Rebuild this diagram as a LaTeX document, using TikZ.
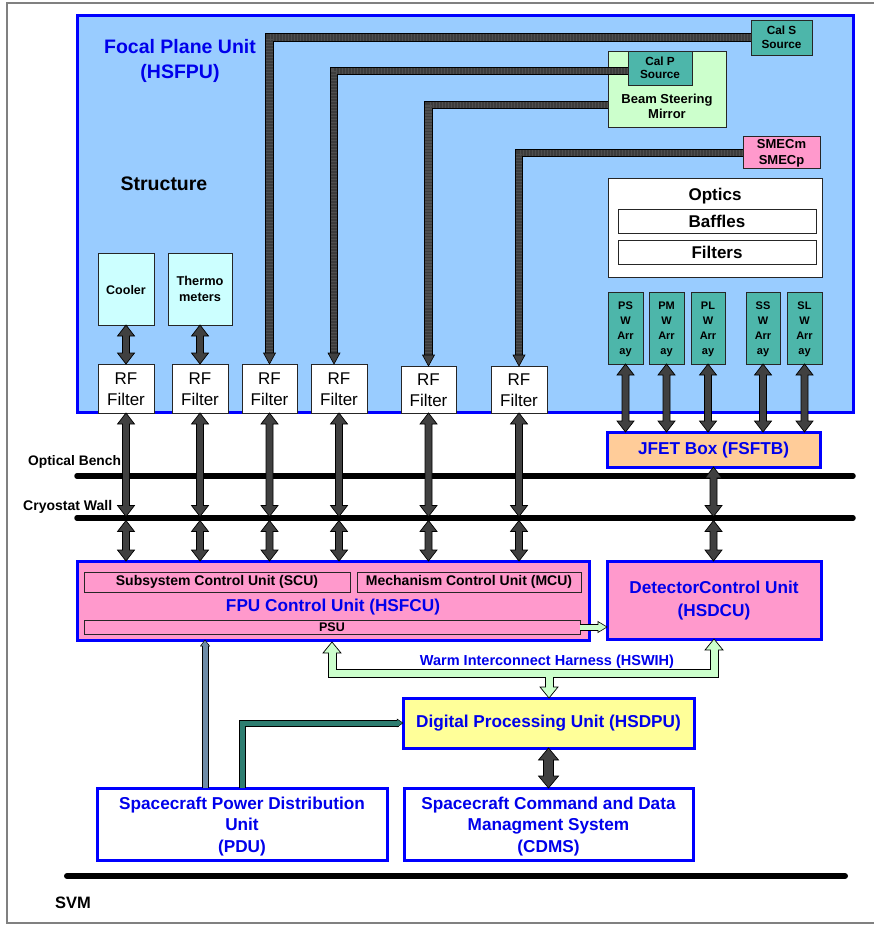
\documentclass[tikz,border=0pt]{standalone}
\usepackage{fontspec}
\setmainfont{Liberation Sans}
\usetikzlibrary{calc,fit}
\definecolor{fpublue}{RGB}{153,204,255}
\definecolor{bord}{RGB}{0,0,255}
\definecolor{txtblue}{RGB}{0,0,235}
\definecolor{cyanl}{RGB}{204,255,255}
\definecolor{tealc}{RGB}{77,182,170}
\definecolor{pinkc}{RGB}{255,153,204}
\definecolor{greenl}{RGB}{204,255,204}
\definecolor{peach}{RGB}{255,204,153}
\definecolor{yell}{RGB}{255,255,153}
\definecolor{darkg}{RGB}{64,64,64}
\definecolor{cablec}{RGB}{60,60,60}
\definecolor{cablestr}{RGB}{78,78,78}
\definecolor{steel}{RGB}{110,140,168}
\definecolor{tealdark}{RGB}{45,125,112}
\newcommand\myfs[2]{\fontsize{#1}{#2}\selectfont}
% vertical double block arrow: #2 top point, #3 bottom point, #4 half shaft, #5 half head, #6 head length
\newcommand\vdarr[6][darkg]{%
  \path[draw=black, line width=0.7pt, fill=#1, line join=miter]
    let \p1=#2, \p2=#3 in
    (\x1,\y1) -- ({\x1+#5},{\y1-#6}) -- ({\x1+#4},{\y1-#6}) -- ({\x1+#4},{\y2+#6})
    -- ({\x1+#5},{\y2+#6}) -- (\x1,\y2) -- ({\x1-#5},{\y2+#6}) -- ({\x1-#4},{\y2+#6})
    -- ({\x1-#4},{\y1-#6}) -- ({\x1-#5},{\y1-#6}) -- cycle;}
\newcommand\darr[2]{\vdarr{#1}{#2}{3.5pt}{8.5pt}{11pt}}
\newcommand\headup[5]{\path[draw=black, fill=#4, line width=#5] let \p1=#1 in
  (\x1,\y1) -- ({\x1-#2},{\y1-#3}) -- ({\x1+#2},{\y1-#3}) -- cycle;}
\newcommand\headdown[5]{\path[draw=black, fill=#4, line width=#5] let \p1=#1 in
  (\x1,\y1) -- ({\x1-#2},{\y1+#3}) -- ({\x1+#2},{\y1+#3}) -- cycle;}
\newcommand\headright[5]{\path[draw=black, fill=#4, line width=#5] let \p1=#1 in
  (\x1,\y1) -- ({\x1-#3},{\y1+#2}) -- ({\x1-#3},{\y1-#2}) -- cycle;}
\newcommand\cable[2]{%
  \draw[line width=8.5pt, black, shorten >=9pt] #1 -| #2;
  \draw[line width=6.5pt, cablec, shorten >=9pt] #1 -| #2;
  \draw[line width=6.5pt, cablestr, dash pattern=on 1.2pt off 1.8pt, shorten >=9pt] #1 -| #2;
  \headdown{#2}{6pt}{11pt}{darkg}{0.6pt}}
\tikzset{
  bbox/.style={draw=bord, line width=3pt, inner sep=0pt, outer sep=0pt},
  ibox/.style={draw=black!85, line width=0.8pt, inner sep=0pt, outer sep=0pt},
  btxt/.style={text=txtblue, font=\myfs{17.2}{21.5}\bfseries, align=center, inner sep=0pt},
  ktxt/.style={text=black, align=center, inner sep=0pt},
  rftxt/.style={ktxt, font=\myfs{17}{21}},
  arrtxt/.style={ktxt, font=\myfs{11}{15}\bfseries},
  hline/.style={line width=5.5pt, line cap=round, black},
}
\begin{document}
\begin{tikzpicture}[x=1pt,y=-1pt]
\useasboundingbox (0,0) rectangle (873,925);
% frame
\draw[gray, line width=1.5pt] (880,3) -- (7,3) -- (7,923) -- (880,923);

% Focal plane unit
\node[bbox, fill=fpublue, fit={(77,16) (853,412)}] (fpu) {};
\node[text=txtblue, font=\myfs{19.5}{24.5}\bfseries, align=center, inner sep=0pt] (fputitle) at (180,61) {Focal Plane Unit\\(HSFPU)};
\node[ktxt, font=\myfs{19.5}{24}\bfseries] (structure) at (164,184) {Structure};

\node[ibox, fill=tealc, fit={(751,20) (812,55)}] (calS) {};
\node[ktxt, font=\myfs{11.8}{14}\bfseries] (calSt) at (calS.center) {Cal S\\Source};
\node[ibox, fill=greenl, fit={(608,51) (726,127)}] (bsm) {};
\node[ktxt, font=\myfs{13}{15}\bfseries] (bsmtxt) at (667,106) {Beam Steering\\Mirror};
\node[ibox, fill=tealc, fit={(628,51) (692,85)}] (calP) {};
\node[ktxt, font=\myfs{11.8}{13.5}\bfseries] (calPt) at (calP.center) {Cal P\\Source};
\node[ibox, fill=pinkc, fit={(743,136) (820,168)}] (smec) {};
\node[ktxt, font=\myfs{13}{16}\bfseries] (smect) at ($(smec.center)+(0,1)$) {SMECm\\SMECp};

\node[ibox, fill=white, fit={(608,178) (822,277)}] (optics) {};
\node[ktxt, font=\myfs{17}{20}\bfseries] (opticstxt) at (715,196) {Optics};
\node[ibox, fill=white, fit={(618,209) (816,233)}] (baffles) {};
\node[ktxt, font=\myfs{17}{20}\bfseries] (bafflest) at (baffles.center) {Baffles};
\node[ibox, fill=white, fit={(618,240) (816,264)}] (filters) {};
\node[ktxt, font=\myfs{17}{20}\bfseries] (filterst) at (filters.center) {Filters};

\node[ibox, fill=cyanl, fit={(98,253) (154,325)}] (cooler) {};
\node[ktxt, font=\myfs{12.5}{16}\bfseries] (coolert) at ($(cooler.center)+(0,1)$) {Cooler};
\node[ibox, fill=cyanl, fit={(168,253) (232,325)}] (thermo) {};
\node[ktxt, font=\myfs{12.8}{16}\bfseries] (thermot) at (thermo.center) {Thermo\\meters};

\node[ibox, fill=white, fit={(98,364) (154,413)}] (rf1) {};
\node[ibox, fill=white, fit={(172,364) (228,413)}] (rf2) {};
\node[ibox, fill=white, fit={(242,364) (297,413)}] (rf3) {};
\node[ibox, fill=white, fit={(311,364) (367,413)}] (rf4) {};
\node[ibox, fill=white, fit={(401,366) (456,413)}] (rf5) {};
\node[ibox, fill=white, fit={(491,366) (547,413)}] (rf6) {};
\foreach \r in {rf1,rf2,rf3,rf4,rf5,rf6}{
  \node[rftxt] (\r t) at ($(\r.center)+(0,0.5)$) {RF\\Filter};
}

\node[ibox, fill=tealc, fit={(608,292) (643,364)}] (psw) {};
\node[ibox, fill=tealc, fit={(649,292) (684,364)}] (pmw) {};
\node[ibox, fill=tealc, fit={(691,292) (725,364)}] (plw) {};
\node[ibox, fill=tealc, fit={(746,292) (780,364)}] (ssw) {};
\node[ibox, fill=tealc, fit={(787,292) (822,364)}] (slw) {};
\node[arrtxt] (pswt) at ($(psw.center)+(0,1)$) {PS\\W\\Arr\\ay};
\node[arrtxt] (pmwt) at ($(pmw.center)+(0,1)$) {PM\\W\\Arr\\ay};
\node[arrtxt] (plwt) at ($(plw.center)+(0,1)$) {PL\\W\\Arr\\ay};
\node[arrtxt] (sswt) at ($(ssw.center)+(0,1)$) {SS\\W\\Arr\\ay};
\node[arrtxt] (slwt) at ($(slw.center)+(0,1)$) {SL\\W\\Arr\\ay};

% cables
\cable{(calS.west)}{(rf3.north)}
\cable{($(calP.west)+(0,3)$)}{($(rf4.north)+(-5,0)$)}
\cable{($(bsm.west)+(0,16)$)}{(rf5.north)}
\cable{($(smec.west)+(0,1)$)}{(rf6.north)}

% JFET box
\node[bbox, fill=peach, fit={(607,432) (820,467)}] (jfet) {};
\node[btxt] (jfett) at ($(jfet.center)+(0,0.5)$) {JFET Box (FSFTB)};

% bench and wall lines
\coordinate (ob) at (0,476);
\coordinate (cwa) at (0,516.5);
\coordinate (cwb) at (0,520.5);
\draw[hline] (77,476) -- (853,476);
\draw[hline] (77,518) -- (853,518);
\node[ktxt, font=\myfs{13.8}{16}\bfseries, anchor=west] (obtxt) at (28,462) {Optical Bench};
\node[ktxt, font=\myfs{14}{16}\bfseries, anchor=west] (cwtxt) at (23,507) {Cryostat Wall};

% lower boxes
\node[bbox, fill=pinkc, fit={(77,561) (589,640)}] (fcu) {};
\node[ibox, fill=pinkc, fit={(84,572) (350,592)}] (scu) {};
\node[ktxt, font=\myfs{14}{16}\bfseries] (scut) at (scu.center) {Subsystem Control Unit (SCU)};
\node[ibox, fill=pinkc, fit={(357,572) (581,592)}] (mcu) {};
\node[ktxt, font=\myfs{14}{16}\bfseries] (mcut) at (mcu.center) {Mechanism Control Unit (MCU)};
\node[btxt] (fcutxt) at (333,607) {FPU Control Unit (HSFCU)};
\node[ibox, fill=pinkc, fit={(84,620) (580,634)}] (psu) {};
\node[ktxt, font=\myfs{12.5}{14}\bfseries] (psut) at (psu.center) {PSU};
\node[bbox, fill=pinkc, fit={(607,561) (821,639)}] (dcu) {};
\node[btxt, font=\myfs{17.2}{23}\bfseries] (dcut) at ($(dcu.center)+(0,1)$) {DetectorControl Unit\\(HSDCU)};
\node[bbox, fill=yell, fit={(403,698) (694,748)}] (dpu) {};
\node[btxt] (dput) at (dpu.center) {Digital Processing Unit (HSDPU)};
\node[bbox, fill=white, fit={(97,788) (387,860)}] (pdu) {};
\node[btxt] (pdut) at ($(pdu.center)+(0,2.5)$) {Spacecraft Power Distribution\\Unit\\(PDU)};
\node[bbox, fill=white, fit={(404,788) (693,860)}] (cdms) {};
\node[btxt] (cdmst) at ($(cdms.center)+(0,2.5)$) {Spacecraft Command and Data\\Managment System\\(CDMS)};

% double block arrows
\darr{(cooler.south)}{(rf1.north)}
\darr{(thermo.south)}{(rf2.north)}
\foreach \r in {rf1,rf2,rf3,rf4,rf5,rf6}{
  \darr{(\r.south)}{(\r.south |- cwa)}
  \darr{(\r.south |- cwb)}{(\r.south |- fcu.north)}
}
\foreach \a in {psw,pmw,plw,ssw,slw}{
  \darr{(\a.south)}{(\a.south |- jfet.north)}
}
\darr{(jfet.south)}{(jfet.south |- cwa)}
\darr{(jfet.south |- cwb)}{(jfet.south |- dcu.north)}
\vdarr{(dpu.south)}{(cdms.north)}{5pt}{10pt}{12pt}

% PSU -> DCU small arrow
\draw[line width=7pt, black, shorten >=8pt] (psu.east) -- (dcu.west |- psu.east);
\headright{(dcu.west |- psu.east)}{5.5pt}{9pt}{greenl}{0.6pt}
\draw[line width=5pt, greenl, shorten >=7pt] (psu.east) -- (dcu.west |- psu.east);

% warm interconnect harness
\coordinate (hA) at (332,0);
\coordinate (hB) at (549,0);
\coordinate (hy) at (0,673.5);
\draw[line width=9pt, black, shorten <=10pt, shorten >=10pt] ($(fcu.south -| hA)+(0,2)$) |- (hy -| dcu.south) -- (dcu.south);
\draw[line width=9pt, black, shorten >=10pt] (hB |- hy) -- (hB |- dpu.north);
\headup{($(fcu.south -| hA)+(0,2)$)}{9pt}{11pt}{greenl}{0.7pt}
\headup{(dcu.south)}{9pt}{11pt}{greenl}{0.7pt}
\headdown{(hB |- dpu.north)}{9pt}{11pt}{greenl}{0.7pt}
\draw[line width=7pt, greenl, shorten <=9pt, shorten >=9pt] ($(fcu.south -| hA)+(0,2)$) |- (hy -| dcu.south) -- (dcu.south);
\draw[line width=7pt, greenl, shorten >=9pt] (hB |- hy) -- (hB |- dpu.north);
\node[text=txtblue, font=\myfs{14.5}{16}\bfseries, inner sep=0pt] (hswih) at (547,662) {Warm Interconnect Harness (HSWIH)};

% power line PDU -> PSU
\coordinate (pw) at (205,0);
\draw[line width=7pt, black, shorten >=4pt] (pdu.north -| pw) -- (fcu.south -| pw);
\headup{(fcu.south -| pw)}{4.5pt}{6pt}{steel}{0.5pt}
\draw[line width=5pt, steel, shorten >=4.5pt] (pdu.north -| pw) -- (fcu.south -| pw);

% PDU -> DPU line
\coordinate (tw) at (242,0);
\draw[line width=7pt, black, shorten >=4pt] (pdu.north -| tw) |- (dpu.west);
\headright{(dpu.west)}{4pt}{6pt}{tealdark}{0.5pt}
\draw[line width=5pt, tealdark, shorten >=4.5pt] (pdu.north -| tw) |- (dpu.west);

% SVM
\draw[line width=6pt, line cap=round] (67,876) -- (845,876);
\node[ktxt, font=\myfs{16.5}{18}\bfseries, anchor=west] (svm) at (55,903) {SVM};
\end{tikzpicture}
\end{document}
